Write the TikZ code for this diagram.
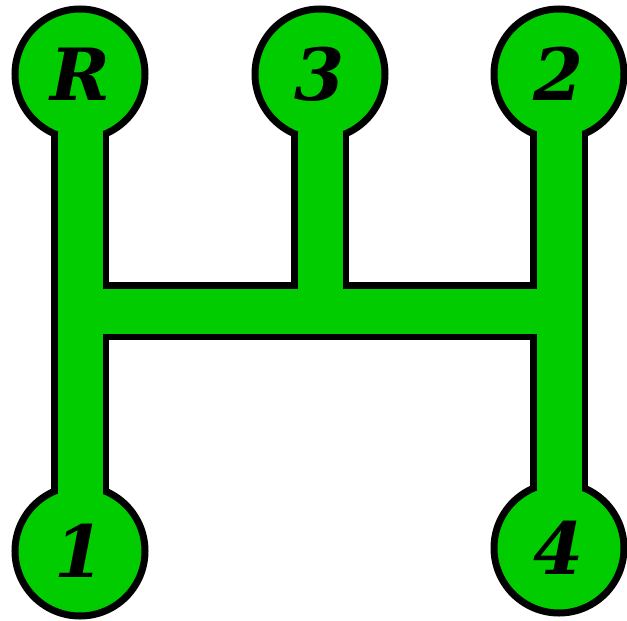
\documentclass[tikz,border=0pt]{standalone}
\usepackage{fontspec}
\usepackage{xcolor}
\usepackage{tikz}
\usetikzlibrary{backgrounds}

\newfontfamily\gearfont{DejaVu Serif}
\definecolor{shiftgreen}{RGB}{0,204,0}

\begin{document}
\begin{tikzpicture}[
  x=1pt, y=-1pt,
  gear/.style={circle, draw, line width=7pt, fill=shiftgreen, minimum size=130pt, inner sep=0pt,
    font=\gearfont\fontsize{72}{74}\selectfont\bfseries\itshape},
  railout/.style={draw=black, line width=58pt},
  railin/.style={draw=shiftgreen, line width=45pt}
]
\useasboundingbox (0,0) rectangle (627,621);

% gear positions
\node[gear] (gearR) at (80,74) {R};
\node[gear] (gear3) at (320,74) {3};
\node[gear] (gear2) at (559,74) {2};
\node[gear] (gear1) at (80,551) {1};
\node[gear] (gear4) at (559,548) {4};

% neutral rail
\coordinate (leftT) at (80,311);
\coordinate (midT) at (320,311);
\coordinate (rightT) at (559,311);

\begin{scope}[on background layer]
\draw[railout] (gearR.center) -- (gear1.center);
\draw[railout] (gear3.center) -- (midT);
\draw[railout] (gear2.center) -- (gear4.center);
\draw[railout] (leftT) -- (rightT);
\end{scope}

\draw[railin] ([yshift=12pt]gearR.south) -- ([yshift=-12pt]gear1.north);
\draw[railin] ([yshift=12pt]gear3.south) -- (midT);
\draw[railin] ([yshift=12pt]gear2.south) -- ([yshift=-12pt]gear4.north);
\draw[railin] (leftT) -- (rightT);
\end{tikzpicture}
\end{document}
